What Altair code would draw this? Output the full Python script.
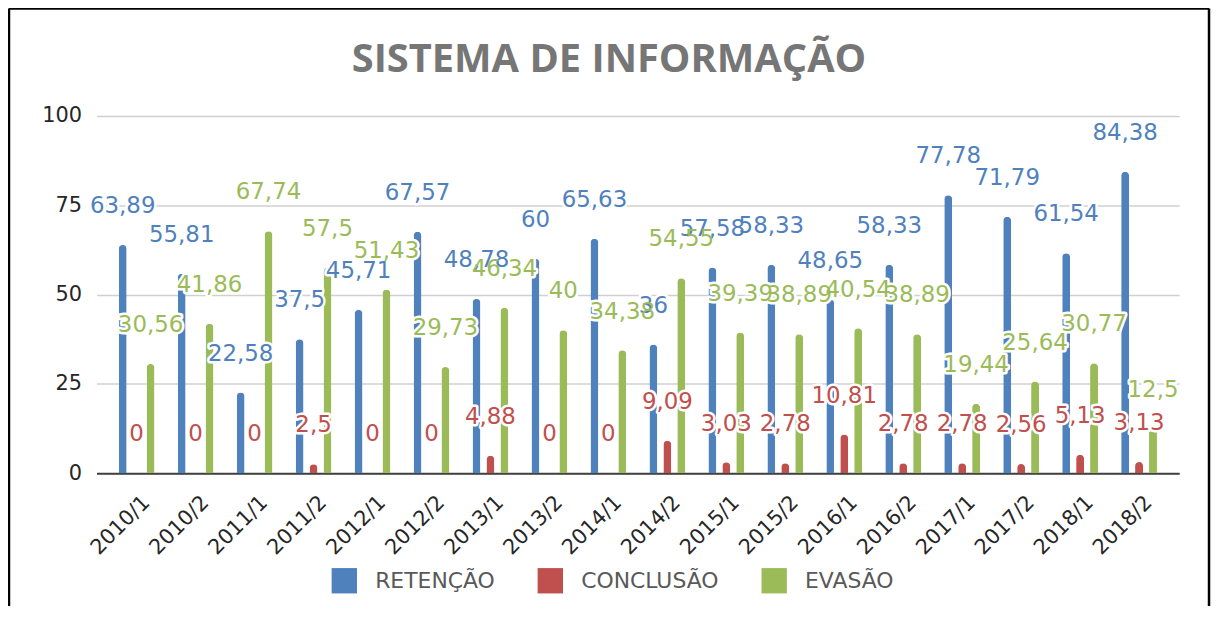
import altair as alt
import pandas as pd

periodos = ["2010/1", "2010/2", "2011/1", "2011/2", "2012/1", "2012/2", "2013/1", "2013/2",
            "2014/1", "2014/2", "2015/1", "2015/2", "2016/1", "2016/2", "2017/1", "2017/2",
            "2018/1", "2018/2"]
retencao = [63.89, 55.81, 22.58, 37.5, 45.71, 67.57, 48.78, 60, 65.63, 36, 57.58, 58.33,
            48.65, 58.33, 77.78, 71.79, 61.54, 84.38]
conclusao = [0, 0, 0, 2.5, 0, 0, 4.88, 0, 0, 9.09, 3.03, 2.78, 10.81, 2.78, 2.78, 2.56, 5.13, 3.13]
evasao = [30.56, 41.86, 67.74, 57.5, 51.43, 29.73, 46.34, 40, 34.38, 54.55, 39.39, 38.89,
          40.54, 38.89, 19.44, 25.64, 30.77, 12.5]
series = ["RETENÇÃO", "CONCLUSÃO", "EVASÃO"]
cores = ["#4F81BD", "#C0504D", "#9BBB59"]
y_ticks = [0, 25, 50, 75, 100]

rows = []
for nome, valores in zip(series, [retencao, conclusao, evasao]):
    for p, v in zip(periodos, valores):
        rows.append({"periodo": p, "serie": nome, "valor": v,
                     "rotulo": f"{v:g}".replace(".", ",")})
df = pd.DataFrame(rows)

FONT = "DejaVu Sans"
color_scale = alt.Scale(domain=series, range=cores)

base = alt.Chart(df).encode(
    x=alt.X("periodo:N", sort=periodos,
            scale=alt.Scale(paddingInner=0, paddingOuter=0.18),
            axis=alt.Axis(title=None, labelAngle=-45, labelAlign="right", labelBaseline="middle",
                          labelFontSize=21, labelFont=FONT, labelColor="#262626",
                          labelPadding=26, labelOffset=10, ticks=False, grid=False,
                          domainColor="#404040", domainWidth=2)),
    xOffset=alt.XOffset("serie:N", sort=series,
                        scale=alt.Scale(domain=series, paddingInner=0.4286, paddingOuter=0.831)),
    y=alt.Y("valor:Q", scale=alt.Scale(domain=[0, 100]),
            axis=alt.Axis(title=None, values=y_ticks, labelFontSize=21, labelFont=FONT,
                          labelColor="#262626", labelPadding=15, ticks=False, domain=False,
                          grid=True, gridColor="#d0d0d0", gridWidth=1.5)),
)

bars = base.mark_bar(cornerRadiusEnd=4).encode(
    color=alt.Color("serie:N", scale=color_scale, sort=series,
                    legend=alt.Legend(title=None, orient="none", direction="horizontal",
                                      legendX=236, legendY=454, symbolType="square",
                                      symbolSize=650, symbolStrokeWidth=0, labelFont=FONT,
                                      labelFontSize=22, labelColor="#595959", labelOffset=18,
                                      columnPadding=42))
)

halo = base.mark_text(dy=-39, fontSize=23, font=FONT, fill="white", stroke="white",
                      strokeWidth=5, strokeJoin="round").encode(text="rotulo:N")

labels = base.mark_text(dy=-39, fontSize=23, font=FONT).encode(
    text="rotulo:N",
    color=alt.Color("serie:N", scale=color_scale, legend=None),
)

frame_df = pd.DataFrame({"k": [0]})
frame_left = alt.Chart(frame_df).mark_rule(color="black", strokeWidth=2.5).encode(
    x=alt.value(-88), y=alt.value(-108), y2=alt.value(520))
frame_top = alt.Chart(frame_df).mark_rule(color="black", strokeWidth=2.5).encode(
    x=alt.value(-88), x2=alt.value(1118), y=alt.value(-108))
frame_right = alt.Chart(frame_df).mark_rule(color="black", strokeWidth=2.5).encode(
    x=alt.value(1118), y=alt.value(-108), y2=alt.value(520))

chart = alt.layer(bars, halo, labels, frame_left, frame_top, frame_right).properties(
    width=1088, height=359,
    title=alt.Title("SISTEMA DE INFORMAÇÃO", fontSize=40, font="Open Sans", fontWeight="bold",
                    color="#767676", anchor="middle", frame="group", baseline="alphabetic",
                    offset=0, dx=-29, dy=105),
    autosize=alt.AutoSizeParams(type="none"),
    padding={"left": 89, "top": 107, "right": 34, "bottom": 132},
).configure_view(stroke=None).resolve_scale(color="shared")

chart.save("out.html", embed_options={"renderer": "svg", "actions": False})
